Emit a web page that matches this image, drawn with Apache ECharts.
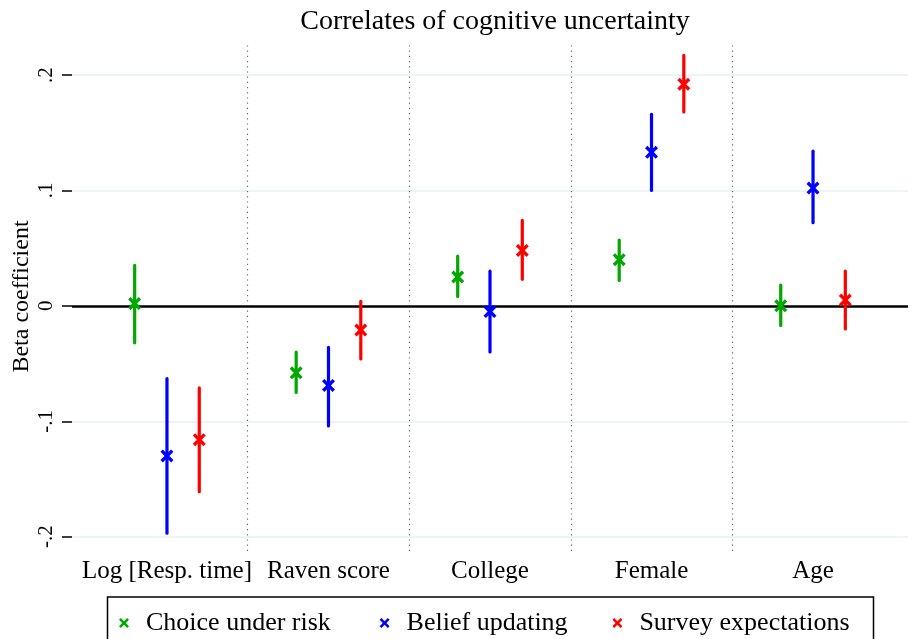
<!DOCTYPE html>
<html>
<head>
<meta charset="utf-8">
<title>Correlates of cognitive uncertainty</title>
<script src="https://cdn.jsdelivr.net/npm/echarts@6/dist/echarts.min.js"></script>
<style>
  html, body { margin: 0; padding: 0; background: #fff; }
  #chart { width: 917px; height: 639px; }
</style>
</head>
<body>
<div id="chart"></div>
<script>
// Regression coefficients with 95% confidence intervals, by correlate and domain
const categories = ['Log [Resp. time]', 'Raven score', 'College', 'Female', 'Age'];
const yTicks = [-0.2, -0.1, 0, 0.1, 0.2];

const riskCoef = [0.002, -0.058, 0.025, 0.040, 0.000];
const riskLo   = [-0.032, -0.075, 0.008, 0.022, -0.017];
const riskHi   = [0.035, -0.040, 0.043, 0.057, 0.018];

const beliefCoef = [-0.130, -0.069, -0.005, 0.133, 0.102];
const beliefLo   = [-0.197, -0.104, -0.040, 0.100, 0.072];
const beliefHi   = [-0.063, -0.036, 0.030, 0.166, 0.134];

const surveyCoef = [-0.116, -0.021, 0.048, 0.192, 0.005];
const surveyLo   = [-0.161, -0.046, 0.023, 0.168, -0.020];
const surveyHi   = [-0.071, 0.004, 0.074, 0.217, 0.030];

const FONT = 'Liberation Serif';
// Bold "x" marker
const X_PATH = 'path://M0,2.2L2.2,0L6,3.8L9.8,0L12,2.2L8.2,6L12,9.8L9.8,12L6,8.2L2.2,12L0,9.8L3.8,6Z';

const groups = [
  { name: 'Choice under risk',   color: '#00a800', coef: riskCoef,   lo: riskLo,   hi: riskHi,   shift: -0.2 },
  { name: 'Belief updating',     color: '#0000ff', coef: beliefCoef, lo: beliefLo, hi: beliefHi, shift: 0 },
  { name: 'Survey expectations', color: '#ff0000', coef: surveyCoef, lo: surveyLo, hi: surveyHi, shift: 0.2 }
];

function renderInterval(params, api) {
  const x = api.value(0);
  const a = api.coord([x, api.value(1)]);
  const b = api.coord([x, api.value(2)]);
  return {
    type: 'line',
    shape: { x1: a[0], y1: a[1], x2: b[0], y2: b[1] },
    style: { stroke: api.visual('color'), lineWidth: 3.2, lineCap: 'round' }
  };
}

function tickText(v) {
  if (Math.abs(v) < 1e-9) return '0';
  const s = String(Math.round(Math.abs(v) * 10) / 10).replace(/^0/, '');
  return (v < 0 ? '-' : '') + s;
}

const series = [];

// Reference lines: light grid, black zero line, dotted group separators
series.push({
  type: 'line',
  data: [],
  silent: true,
  z: 1,
  markLine: {
    z: 1,
    silent: true,
    symbol: 'none',
    label: { show: false },
    animation: false,
    data: [
      ...yTicks.filter(v => v !== 0).map(v => ({ yAxis: v, lineStyle: { color: '#e8eff1', width: 1.5, type: 'solid' } })),
      ...categories.slice(1).map((c, i) => ({ xAxis: i + 1.5, lineStyle: { color: '#666', width: 1.2, type: [1.2, 4] } })),
      { yAxis: 0, lineStyle: { color: '#000', width: 2.5, type: 'solid' } }
    ]
  }
});

groups.forEach(g => {
  series.push({
    name: g.name,
    type: 'custom',
    z: 3,
    renderItem: renderInterval,
    itemStyle: { color: g.color },
    encode: { x: 0, y: [1, 2] },
    data: categories.map((c, i) => [i + 1 + g.shift, g.lo[i], g.hi[i]])
  });
  series.push({
    name: g.name,
    type: 'scatter',
    z: 4,
    symbol: X_PATH,
    symbolSize: 13,
    itemStyle: { color: g.color, opacity: 1 },
    data: categories.map((c, i) => [i + 1 + g.shift, g.coef[i]])
  });
});

const legendLeft = [119, 379.6, 612.4];
const legends = groups.map((g, k) => ({
  data: [{ name: g.name, icon: X_PATH, itemStyle: { color: g.color } }],
  left: legendLeft[k],
  top: 610,
  padding: 0,
  itemWidth: 34,
  itemHeight: 10,
  symbolKeepAspect: true,
  selectedMode: false,
  textStyle: { fontFamily: FONT, fontSize: 26, color: '#000' }
}));

const chart = echarts.init(document.getElementById('chart'), null, { renderer: 'canvas' });
chart.setOption({
  animation: false,
  backgroundColor: '#fff',
  title: {
    text: 'Correlates of cognitive uncertainty',
    left: 490,
    textAlign: 'center',
    top: 3,
    textStyle: { fontFamily: FONT, fontSize: 28, fontWeight: 'normal', color: '#000' }
  },
  legend: legends,
  grid: { left: 72, right: 9, top: 42, bottom: 88, containLabel: false, outerBoundsMode: 'none' },
  xAxis: {
    type: 'value',
    min: 0.412,
    max: 5.588,
    axisLine: { show: false },
    axisTick: { show: false },
    splitLine: { show: false },
    axisLabel: {
      customValues: categories.map((c, i) => i + 1),
      formatter: v => categories[Math.round(v) - 1],
      margin: 8,
      fontFamily: FONT,
      fontSize: 25,
      color: '#000'
    }
  },
  yAxis: {
    type: 'value',
    min: -0.2124,
    max: 0.2286,
    name: 'Beta coefficient',
    nameLocation: 'middle',
    nameRotate: 90,
    nameGap: 38,
    nameMoveOverlap: false,
    nameTextStyle: { fontFamily: FONT, fontSize: 24, color: '#000' },
    axisLine: { show: false },
    splitLine: { show: false },
    axisTick: {
      show: true,
      customValues: yTicks,
      length: 10,
      inside: false,
      lineStyle: { color: '#000', width: 1.5 }
    },
    axisLabel: {
      customValues: yTicks,
      rotate: 90,
      margin: 15,
      formatter: tickText,
      fontFamily: FONT,
      fontSize: 21,
      color: '#000'
    }
  },
  graphic: [{
    type: 'rect',
    silent: true,
    shape: { x: 107.5, y: 597, width: 766, height: 60 },
    style: { fill: 'none', stroke: '#000', lineWidth: 1.5 }
  }],
  series: series
});
</script>
</body>
</html>
